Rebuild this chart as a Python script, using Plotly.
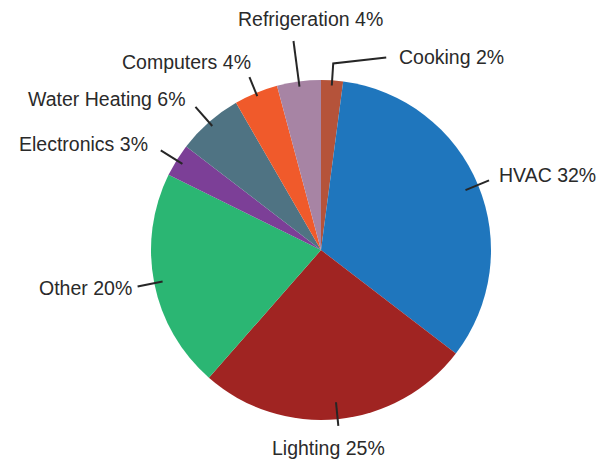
import math
import plotly.graph_objects as go

labels = ["Cooking", "HVAC", "Lighting", "Other", "Electronics",
          "Water Heating", "Computers", "Refrigeration"]
values = [2, 32, 25, 20, 3, 6, 4, 4]
pct_text = ["2%", "32%", "25%", "20%", "3%", "6%", "4%", "4%"]
colors = ["#b5533a", "#1f76bd", "#a02422", "#2bb673", "#7c3f97",
          "#4f7383", "#f05a2b", "#a784a4"]

# leader line styling (inner / outer radius as fraction of pie radius)
inner_r = [0.97, 0.92, 0.90, 0.95, 0.96, 0.97, 0.98, 0.97]
outer_r = [1.10, 1.07, 1.04, 1.10, 1.11, 1.12, 1.10, 1.24]
# label placement relative to line end: (xanchor, yanchor, xshift, yshift)
label_pos = [
    ("left", "middle", 11, 0),
    ("left", "middle", 8, 5),
    ("center", "top", -10, -9),
    ("right", "middle", -4, -2),
    ("right", "middle", -11, 6),
    ("right", "middle", -7, 8),
    ("right", "bottom", 4, 2),
    ("center", "bottom", 17, 9),
]

W, H = 602, 461
ml, mr, mt, mb = 151, 111, 80, 41
side = W - ml - mr  # 340 square plotting area

fig = go.Figure(go.Pie(
    labels=labels, values=values, sort=False, direction="clockwise",
    rotation=0, marker=dict(colors=colors, line=dict(width=0)),
    textinfo="none", hoverinfo="label+percent", showlegend=False,
))

total = sum(values)
shapes = []
annotations = []
cum = 0.0
for i, v in enumerate(values):
    mid = (cum + v / 2) / total * 2 * math.pi
    cum += v
    dx, dy = math.sin(mid), math.cos(mid)
    x0, y0 = 0.5 + 0.5 * inner_r[i] * dx, 0.5 + 0.5 * inner_r[i] * dy
    x1, y1 = 0.5 + 0.5 * outer_r[i] * dx, 0.5 + 0.5 * outer_r[i] * dy
    if i == 0:
        # bent leader for the small top slice
        xe = x1 + 53 / side
        ye = y1 + 6 / side
        path = f"M {x0},{y0} L {x1},{y1} L {xe},{ye}"
        shapes.append(dict(type="path", path=path, xref="paper", yref="paper",
                           line=dict(color="#262626", width=2)))
        ex, ey = xe, ye
    else:
        shapes.append(dict(type="line", x0=x0, y0=y0, x1=x1, y1=y1,
                           xref="paper", yref="paper",
                           line=dict(color="#262626", width=2)))
        ex, ey = x1, y1
    xa, ya, xs, ys = label_pos[i]
    annotations.append(dict(
        x=ex, y=ey, xref="paper", yref="paper", showarrow=False,
        text=f"{labels[i]} {pct_text[i]}", xanchor=xa, yanchor=ya,
        xshift=xs, yshift=ys,
        font=dict(family="Liberation Sans, Arial, sans-serif", size=19.5,
                  color="#2a2a2a"),
    ))

fig.update_layout(
    width=W, height=H,
    margin=dict(l=ml, r=mr, t=mt, b=mb),
    paper_bgcolor="white", plot_bgcolor="white",
    shapes=shapes, annotations=annotations,
)

fig.write_html(
    "out.html",
    config={"displayModeBar": False},
    post_script="document.body.style.margin='0';document.body.style.overflow='hidden';",
)
